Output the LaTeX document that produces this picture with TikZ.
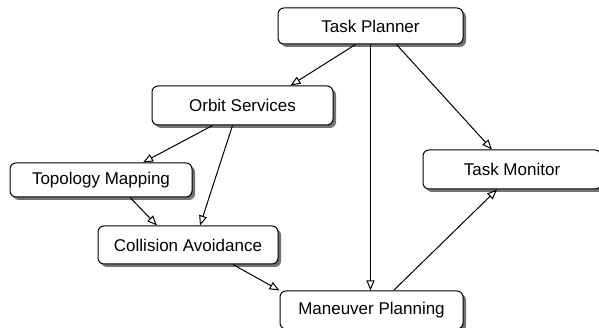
\documentclass[tikz,border=0pt]{standalone}
\usepackage{fontspec}
\setmainfont{Liberation Sans}
\usetikzlibrary{arrows.meta,shadows}

\begin{document}
\begin{tikzpicture}[x=1pt, y=-1pt,
    module/.style={draw, line width=1pt, rounded corners=6pt, fill=white,
        general shadow={fill=black!55, shadow xshift=3pt, shadow yshift=-3pt},
        inner sep=0pt, font=\fontsize{17}{19}\selectfont},
    flow/.style={line width=1pt, -{Triangle[open, length=10pt, width=8pt]}}]
    \useasboundingbox (0,0) rectangle (599,328);

    \node[module, minimum width=185pt, minimum height=36pt] (TP) at (370.5,26) {Task Planner};
    \node[module, minimum width=181pt, minimum height=39pt] (OS) at (242.5,105.5) {Orbit Services};
    \node[module, minimum width=182pt, minimum height=34pt] (TopM) at (101,180) {Topology Mapping};
    \node[module, minimum width=180pt, minimum height=38pt] (CA) at (188,245) {Collision Avoidance};
    \node[module, minimum width=183pt, minimum height=38pt] (MP) at (371.5,310) {Maneuver Planning};
    \node[module, minimum width=178pt, minimum height=39pt] (TM) at (512,169.5) {Task Monitor};

    \draw[flow] ([xshift=-15pt]TP.south) -- ([xshift=48pt]OS.north);
    \draw[flow] (TP.south) -- (TP.south |- MP.north);
    \draw[flow] ([xshift=26pt]TP.south) -- ([xshift=-20pt]TM.north);
    \draw[flow] ([xshift=-30pt]OS.south) -- ([xshift=42pt]TopM.north);
    \draw[flow] ([xshift=-10pt]OS.south) -- ([xshift=12pt]CA.north);
    \draw[flow] ([xshift=29pt]TopM.south) -- ([xshift=-31pt]CA.north);
    \draw[flow] ([xshift=45pt]CA.south) -- (MP.north west);
    \draw[flow] ([xshift=22pt]MP.north) -- ([xshift=-15pt]TM.south);
\end{tikzpicture}
\end{document}
